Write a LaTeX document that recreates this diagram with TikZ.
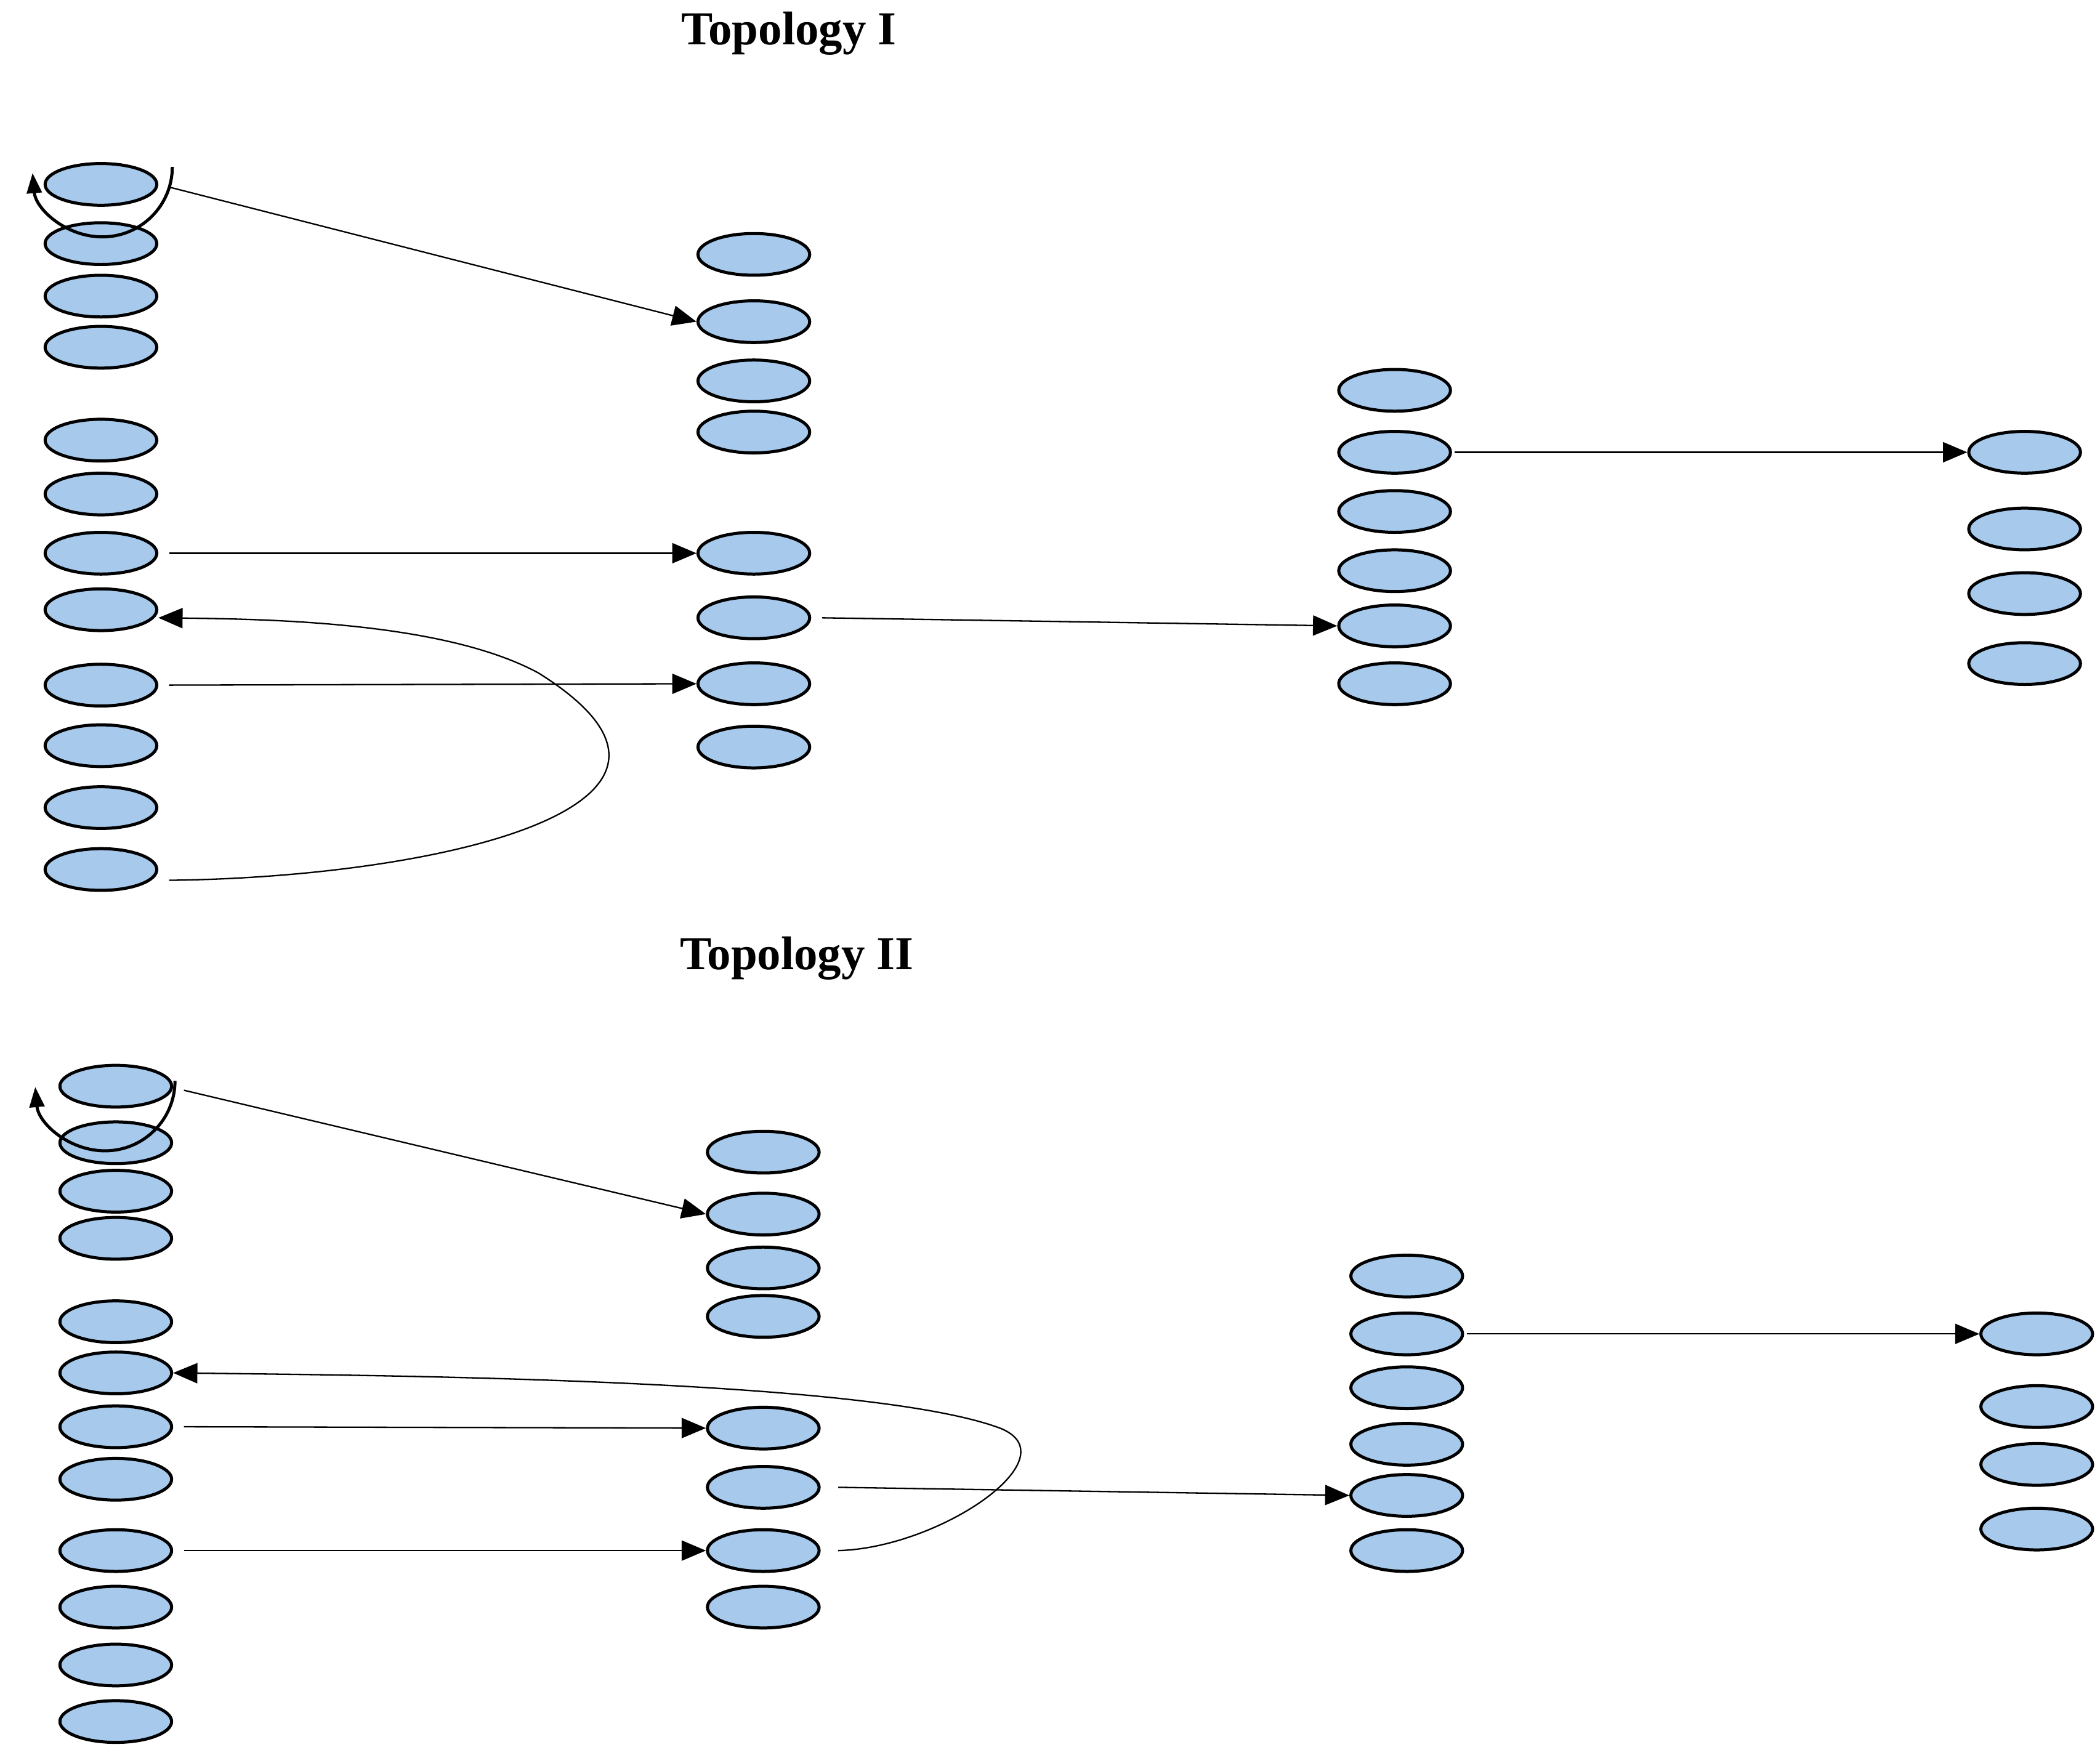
\documentclass[tikz,border=0pt]{standalone}
\usepackage{fontspec}
\setmainfont{Liberation Serif}
\usetikzlibrary{arrows.meta,shapes.geometric}
\begin{document}
\begin{tikzpicture}[x=0.02cm,y=-0.02cm,
 el/.style={draw=black,line width=1.3pt,fill={rgb,255:red,166;green,201;blue,236},ellipse,minimum width=1.66cm,minimum height=0.62cm,inner sep=0pt},
 ar/.style={line width=0.6pt,-{Triangle[length=0.36cm,width=0.3cm]}},
 ttl/.style={font=\fontsize{20}{24}\selectfont\bfseries}]
\useasboundingbox (0,0) rectangle (1560,1300);
\node[ttl] (t1) at (586,25) {Topology I};
\node[ttl] (t2) at (592,712) {Topology II};
% Topology I
\foreach \y [count=\i] in {137,181,220,258,327,367,411,453,509,554,600,646} \node[el] (a\i) at (75,\y) {};
\foreach \y [count=\i] in {189,239,283,321,411,459,508,555} \node[el] (b\i) at (560,\y) {};
\foreach \y [count=\i] in {290,336,380,424,465,508} \node[el] (c\i) at (1036,\y) {};
\foreach \y [count=\i] in {336,393,441,493} \node[el] (d\i) at (1504,\y) {};
\coordinate (l1s) at (128,124);
\draw[line width=1.3pt,-{Triangle[length=0.3cm,width=0.22cm]}] (l1s) arc (0:175:52);
\draw[ar] ([xshift=0.16cm,yshift=-0.04cm]a1.east) -- (b2.west);
\draw[ar] ([xshift=0.16cm]a7.east) -- (b5.west);
\draw[ar] ([xshift=0.16cm]a9.east) -- (b7.west);
\draw[ar] ([xshift=0.16cm]b6.east) -- (c5.west);
\draw[ar] ([xshift=0.04cm]c2.east) -- (d1.west);
\draw[ar] ([xshift=0.16cm,yshift=-0.16cm]a12.east) .. controls (320,652) and (560,600) .. (400,500) .. controls (330,462) and (200,460) .. ([yshift=-0.12cm]a8.east);
% Topology II
\foreach \y [count=\i] in {807,849,885,920,982,1020,1060,1099,1152,1194,1237,1279} \node[el] (e\i) at (86,\y) {};
\foreach \y [count=\i] in {856,902,942,978,1061,1105,1152,1194} \node[el] (f\i) at (567,\y) {};
\foreach \y [count=\i] in {948,991,1031,1073,1111,1152} \node[el] (g\i) at (1045,\y) {};
\foreach \y [count=\i] in {991,1045,1088,1136} \node[el] (h\i) at (1513,\y) {};
\coordinate (l2s) at (130,803);
\draw[line width=1.3pt,-{Triangle[length=0.3cm,width=0.22cm]}] (l2s) arc (0:175:52);
\draw[ar] ([xshift=0.16cm,yshift=-0.06cm]e1.east) -- (f2.west);
\draw[ar] ([xshift=0.16cm]e7.east) -- (f5.west);
\draw[ar] ([xshift=0.16cm]e9.east) -- (f7.west);
\draw[ar] ([xshift=0.26cm]f6.east) -- (g5.west);
\draw[ar] ([xshift=0.04cm]g2.east) -- (h1.west);
\draw[ar] ([xshift=0.26cm]f7.east) .. controls (700,1150) and (800,1080) .. (740,1060) .. controls (640,1025) and (300,1022) .. (e6.east);
\end{tikzpicture}
\end{document}
